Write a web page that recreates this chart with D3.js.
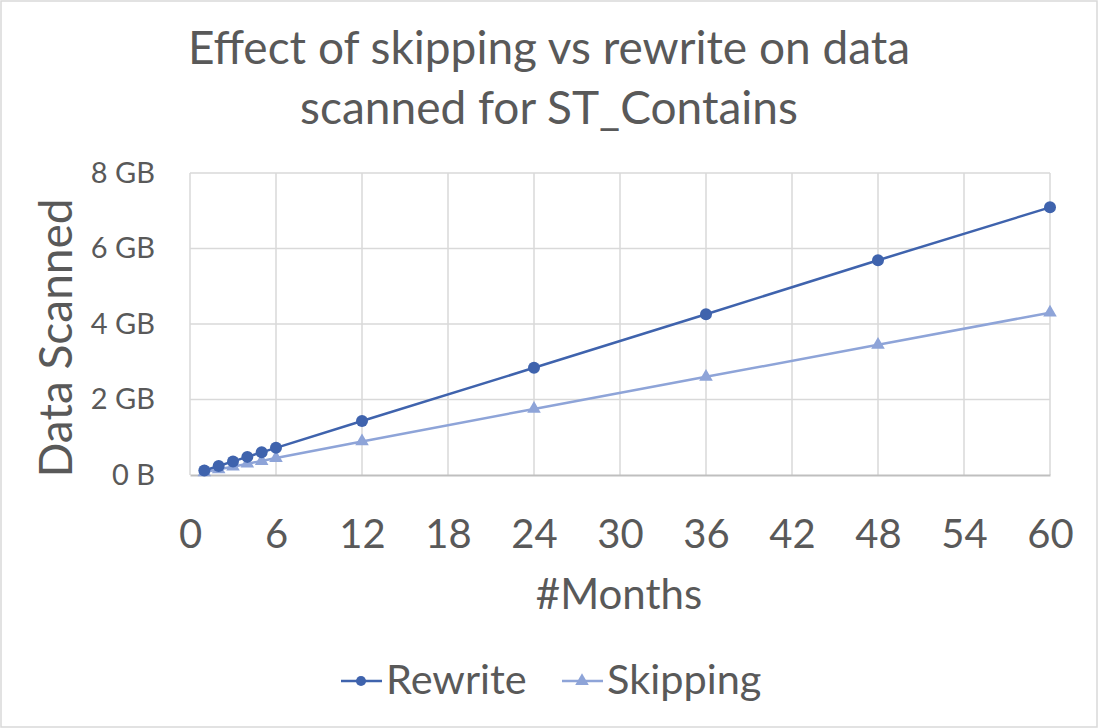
<!DOCTYPE html>
<html>
<head>
<meta charset="utf-8">
<script src="https://cdn.jsdelivr.net/npm/d3@7"></script>
<style>
  body { margin: 0; background: #fff; }
  svg text { font-family: Lato, "Open Sans", sans-serif; fill: #595959; }
</style>
</head>
<body>
<svg id="chart" width="1098" height="728"></svg>
<script>
// chart data
var months = [1, 2, 3, 4, 5, 6, 12, 24, 36, 48, 60];
var rewrite = [0.12, 0.24, 0.36, 0.48, 0.6, 0.72, 1.43, 2.84, 4.26, 5.69, 7.09];
var skipping = [0.07, 0.15, 0.22, 0.3, 0.37, 0.45, 0.89, 1.75, 2.6, 3.45, 4.3];
var xTicks = [0, 6, 12, 18, 24, 30, 36, 42, 48, 54, 60];
var yTicks = [0, 2, 4, 6, 8];
var yTickLabels = ["0 B", "2 GB", "4 GB", "6 GB", "8 GB"];

var svg = d3.select("#chart");

var f = { left: 190, right: 1050, top: 173, bottom: 475 };

// outer border
svg.append("rect")
	.attr("x", 1).attr("y", 1)
	.attr("width", 1096).attr("height", 726)
	.attr("fill", "#fff")
	.attr("stroke", "#d9d9d9").attr("stroke-width", 1.5);

var x = d3.scaleLinear().domain([0, 60]).range([f.left, f.right]);
var y = d3.scaleLinear().domain([0, 8]).range([f.bottom, f.top]);

// grid
svg.append("g").selectAll("line.v")
	.data(xTicks)
	.enter().append("line")
	.attr("x1", function(d) { return x(d); })
	.attr("x2", function(d) { return x(d); })
	.attr("y1", f.top).attr("y2", f.bottom)
	.attr("stroke", "#d9d9d9").attr("stroke-width", 1.5);

svg.append("g").selectAll("line.h")
	.data(yTicks.slice(1))
	.enter().append("line")
	.attr("x1", f.left).attr("x2", f.right)
	.attr("y1", function(d) { return y(d); })
	.attr("y2", function(d) { return y(d); })
	.attr("stroke", "#d9d9d9").attr("stroke-width", 1.5);

// x axis
var xAxis = svg.append("g")
	.attr("transform", "translate(0," + f.bottom + ")")
	.call(d3.axisBottom(x).tickValues(xTicks).tickSize(0).tickPadding(0));
xAxis.select(".domain").attr("stroke", "#bfbfbf").attr("stroke-width", 2);
xAxis.selectAll("text").style("font-size", "40px").attr("y", 73).attr("dy", null);

// y axis
var yAxis = svg.append("g")
	.attr("transform", "translate(" + f.left + ",0)")
	.call(d3.axisLeft(y).tickValues(yTicks).tickSize(0).tickPadding(35)
		.tickFormat(function(d, i) { return yTickLabels[i]; }));
yAxis.select(".domain").remove();
yAxis.selectAll("text").style("font-size", "29px");

// lines
var rows = months.map(function(m, i) { return { m: m, r: rewrite[i], s: skipping[i] }; });

var line = function(key) {
	return d3.line()
		.x(function(d) { return x(d.m); })
		.y(function(d) { return y(d[key]); });
};

svg.append("path").datum(rows)
	.attr("d", line("s"))
	.attr("fill", "none").attr("stroke", "#8ea4d8").attr("stroke-width", 2.5);

svg.append("g").selectAll("path")
	.data(rows).enter().append("path")
	.attr("d", d3.symbol().type(d3.symbolTriangle).size(80))
	.attr("transform", function(d) { return "translate(" + x(d.m) + "," + y(d.s) + ")"; })
	.attr("fill", "#8ea4d8");

svg.append("path").datum(rows)
	.attr("d", line("r"))
	.attr("fill", "none").attr("stroke", "#3f63ad").attr("stroke-width", 2.5);

svg.append("g").selectAll("circle")
	.data(rows).enter().append("circle")
	.attr("cx", function(d) { return x(d.m); })
	.attr("cy", function(d) { return y(d.r); })
	.attr("r", 6)
	.attr("fill", "#3f63ad");

// titles
svg.append("text")
	.attr("x", 549).attr("y", 64)
	.attr("text-anchor", "middle")
	.style("font-size", "46px")
	.text("Effect of skipping vs rewrite on data");
svg.append("text")
	.attr("x", 549).attr("y", 124)
	.attr("text-anchor", "middle")
	.style("font-size", "46px")
	.text("scanned for ST_Contains");

svg.append("text")
	.attr("transform", "translate(72,338) rotate(-90)")
	.attr("text-anchor", "middle")
	.style("font-size", "46px")
	.text("Data Scanned");

svg.append("text")
	.attr("x", 619).attr("y", 609)
	.attr("text-anchor", "middle")
	.style("font-size", "42px")
	.text("#Months");

// legend
var legend = [
	{ name: "Rewrite", color: "#3f63ad", sym: "circle", x: 341 },
	{ name: "Skipping", color: "#8ea4d8", sym: "triangle", x: 562 }
];
var lg = svg.append("g").selectAll("g").data(legend).enter().append("g")
	.attr("transform", function(d) { return "translate(" + d.x + ",681)"; });
lg.append("line")
	.attr("x1", 0).attr("x2", 41).attr("y1", 0).attr("y2", 0)
	.attr("stroke", function(d) { return d.color; }).attr("stroke-width", 2.5);
lg.append("path")
	.attr("d", function(d) {
		return d3.symbol().type(d.sym === "circle" ? d3.symbolCircle : d3.symbolTriangle).size(80)();
	})
	.attr("transform", "translate(20,0)")
	.attr("fill", function(d) { return d.color; });
lg.append("text")
	.attr("x", 45).attr("y", 13)
	.style("font-size", "41.5px")
	.text(function(d) { return d.name; });
</script>
</body>
</html>
